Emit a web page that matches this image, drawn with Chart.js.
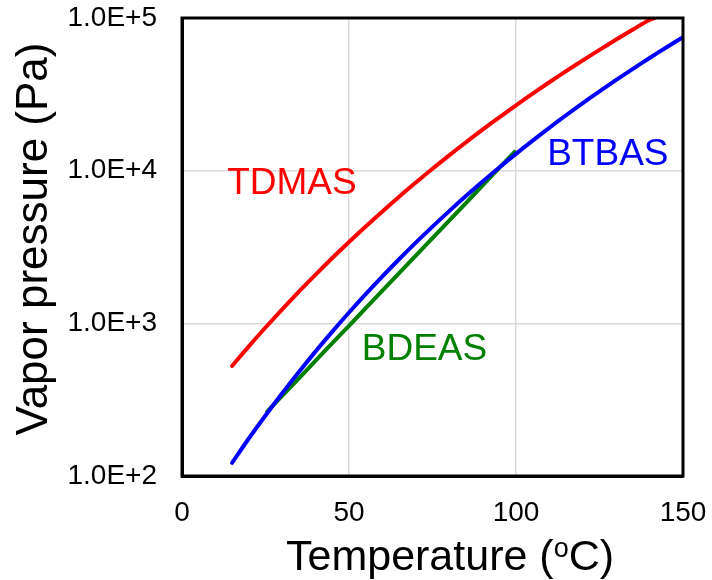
<!DOCTYPE html>
<html>
<head>
<meta charset="utf-8">
<script src="https://cdn.jsdelivr.net/npm/chart.js@4/dist/chart.umd.min.js"></script>
<style>
  body { margin: 0; background: #fff; }
</style>
</head>
<body>
<canvas id="vp" width="712" height="580"></canvas>
<script>
// vapor pressure curves (T in degC, P in Pa)
const tdmasT = [15, 20, 25, 30, 35, 40, 45, 50, 55, 60, 65, 70, 75, 80, 85, 90, 95, 100, 105, 110, 115, 120, 125, 130, 135, 140, 141.5]
const tdmasP = [526, 707, 939, 1236, 1614, 2087, 2679, 3412, 4312, 5410, 6748, 8358, 10300, 12600, 15340, 18570, 22360, 26800, 31960, 37950, 44870, 52790, 61860, 72230, 84030, 97340, 100000]

const btbasT = [15, 20, 25, 30, 35, 40, 45, 50, 55, 60, 65, 70, 75, 80, 85, 90, 95, 100, 105, 110, 115, 120, 125, 130, 135, 140, 145, 150]
const btbasP = [122, 176, 249, 348, 480, 655, 882, 1177, 1553, 2030, 2629, 3377, 4299, 5433, 6813, 8482, 10490, 12890, 15740, 19110, 23070, 27690, 33060, 39290, 46470, 54730, 64140, 74850]

const bdeasT = [25.5, 30, 35, 40, 45, 50, 55, 60, 65, 70, 75, 80, 85, 90, 95, 99.6]
const bdeasP = [264, 335, 436, 569, 741, 964, 1256, 1637, 2133, 2779, 3617, 4713, 6138, 7998, 10420, 13280]

const xTicks = [0, 50, 100, 150]
const yTicks = [100, 1000, 10000, 100000]

function pts(xs, ys) {
  return xs.map((x, i) => ({ x: x, y: ys[i] }))
}

const FONT = '"Liberation Sans", Arial, sans-serif'

// in-plot series names, placed in data coordinates
const seriesLabels = [
  { text: 'TDMAS', x: 32.9, y: 8170, color: '#ff0000' },
  { text: 'BTBAS', x: 127.5, y: 12800, color: '#0000ff' },
  { text: 'BDEAS', x: 72.6, y: 667, color: '#008000' }
]

const frameAndLabels = {
  id: 'frameAndLabels',
  afterDraw(chart) {
    const { ctx, chartArea, scales } = chart
    ctx.save()
    ctx.strokeStyle = '#000'
    ctx.lineWidth = 3
    ctx.strokeRect(chartArea.left, chartArea.top, chartArea.right - chartArea.left, chartArea.bottom - chartArea.top)

    ctx.font = '37px ' + FONT
    ctx.textAlign = 'center'
    ctx.textBaseline = 'middle'
    seriesLabels.forEach(l => {
      ctx.fillStyle = l.color
      ctx.fillText(l.text, scales.x.getPixelForValue(l.x), scales.y.getPixelForValue(l.y))
    })

    // axis titles (x title has a superscript o)
    ctx.fillStyle = '#000'
    ctx.textAlign = 'left'
    ctx.textBaseline = 'alphabetic'
    const big = '43px ' + FONT
    const small = '27px ' + FONT
    ctx.font = big
    const a = 'Temperature (', c = 'C)'
    const wa = ctx.measureText(a).width
    const wc = ctx.measureText(c).width
    ctx.font = small
    const wo = ctx.measureText('o').width
    let x0 = 450 - (wa + wo + wc) / 2
    const base = 570
    ctx.font = big
    ctx.fillText(a, x0, base)
    ctx.font = small
    ctx.fillText('o', x0 + wa, base - 13)
    ctx.font = big
    ctx.fillText(c, x0 + wa + wo, base)

    ctx.translate(35, 239)
    ctx.rotate(-Math.PI / 2)
    ctx.font = '44px ' + FONT
    ctx.textAlign = 'center'
    ctx.textBaseline = 'middle'
    ctx.fillText('Vapor pressure (Pa)', 0, 0)
    ctx.restore()
  }
}

const lineStyle = {
  borderWidth: 4,
  pointRadius: 0,
  borderCapStyle: 'round',
  fill: false,
  tension: 0.3
}

new Chart(document.getElementById('vp').getContext('2d'), {
  type: 'line',
  data: {
    datasets: [
      { label: 'TDMAS', data: pts(tdmasT, tdmasP), borderColor: '#ff0000', ...lineStyle },
      { label: 'BTBAS', data: pts(btbasT, btbasP), borderColor: '#0000ff', ...lineStyle },
      { label: 'BDEAS', data: pts(bdeasT, bdeasP), borderColor: '#008000', ...lineStyle }
    ]
  },
  options: {
    responsive: false,
    animation: false,
    layout: { padding: { top: 18, right: 29, left: 0, bottom: 0 } },
    plugins: {
      legend: { display: false },
      tooltip: { enabled: false }
    },
    scales: {
      x: {
        type: 'linear',
        min: 0,
        max: 150,
        afterBuildTicks: s => { s.ticks = xTicks.map(v => ({ value: v })) },
        afterFit: s => {
          s.height = 104
          s.paddingLeft = 0
          s.paddingRight = 0
        },
        grid: { color: '#d9d9d9', lineWidth: 1.5, drawTicks: false },
        border: { color: '#000', width: 3 },
        ticks: {
          color: '#000',
          padding: 20,
          maxRotation: 0,
          font: { family: FONT, size: 28 }
        }
      },
      y: {
        type: 'logarithmic',
        min: 100,
        max: 100000,
        afterBuildTicks: s => { s.ticks = yTicks.map(v => ({ value: v })) },
        afterFit: s => {
          s.width = 182
          s.paddingTop = 0
          s.paddingBottom = 0
        },
        grid: { color: '#d9d9d9', lineWidth: 1.5, drawTicks: false },
        border: { color: '#000', width: 3 },
        ticks: {
          color: '#000',
          padding: 25,
          font: { family: FONT, size: 28 },
          callback: v => '1.0E+' + Math.round(Math.log10(v))
        }
      }
    }
  },
  plugins: [frameAndLabels]
})
</script>
</body>
</html>
